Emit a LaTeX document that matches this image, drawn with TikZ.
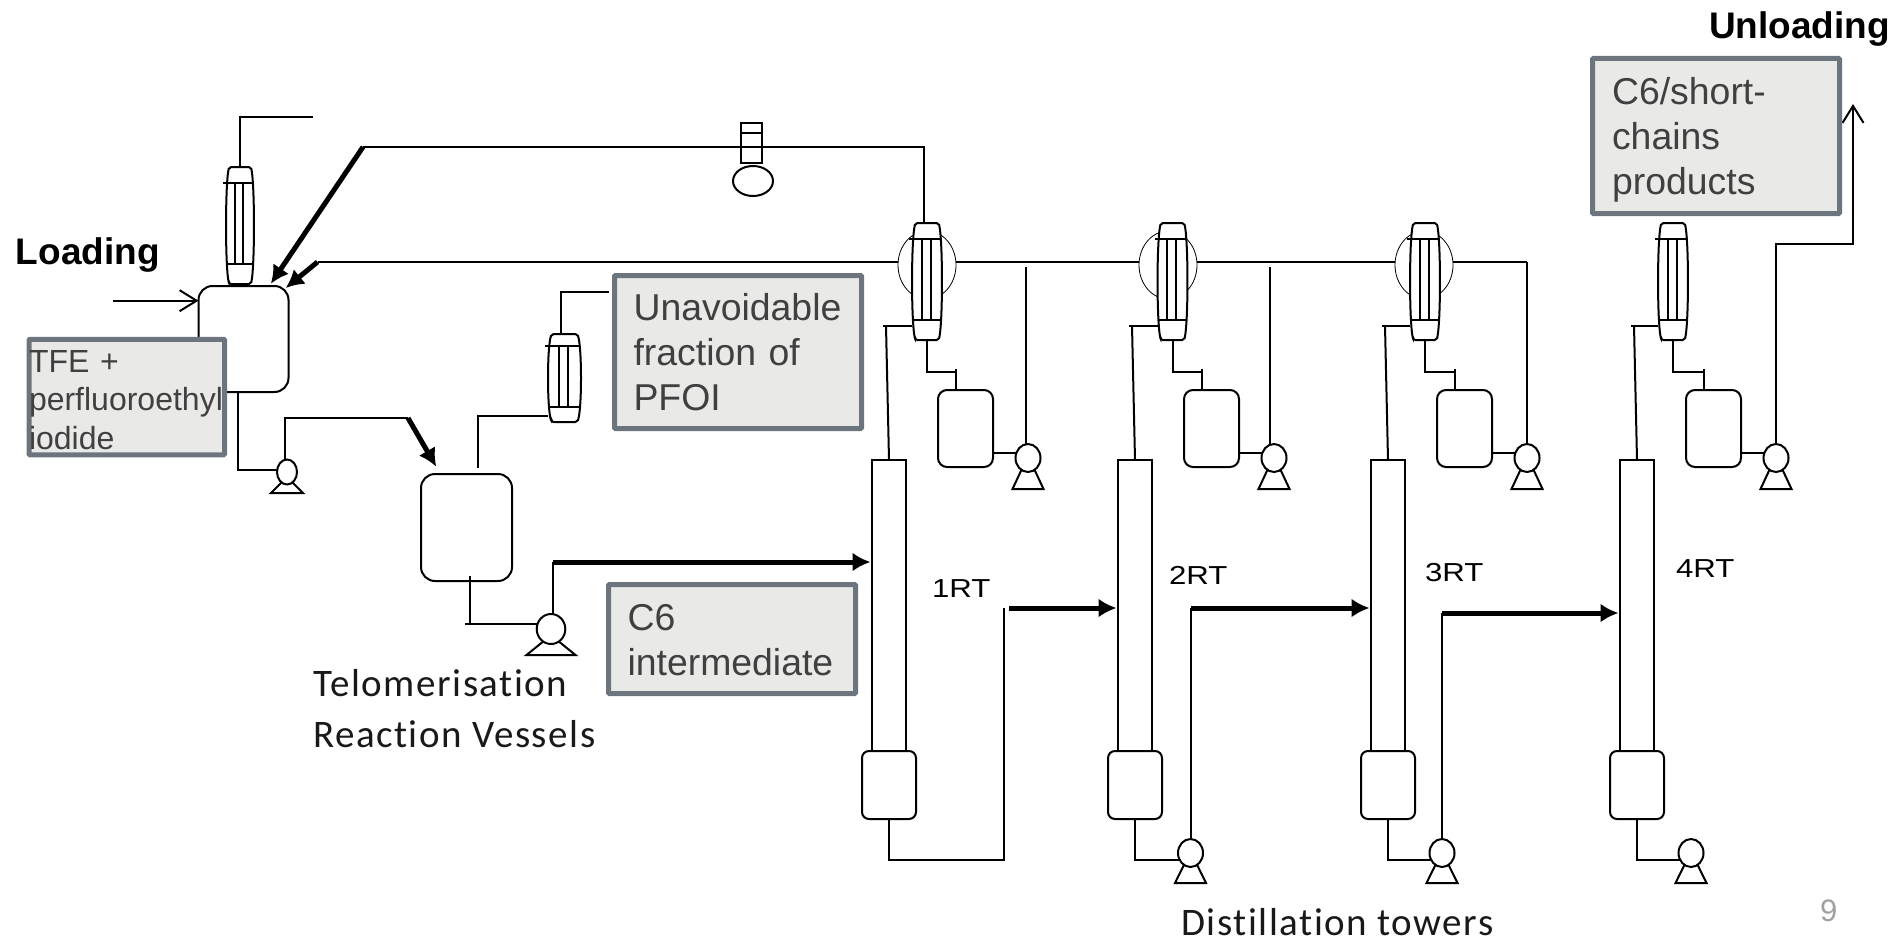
\documentclass[tikz,border=0pt]{standalone}
\usepackage{fontspec}
\setmainfont{Liberation Sans}
\newfontfamily\carlitofont[LetterSpace=4,Ligatures=CommonOff]{Carlito}
\usetikzlibrary{arrows.meta,shapes.geometric}
\definecolor{boxedge}{HTML}{6C757D}
\definecolor{boxfill}{HTML}{E9E9E7}
\definecolor{boxtext}{HTML}{404040}
\definecolor{pagegray}{HTML}{A0A0A0}
\newcommand{\condenser}[5]{%
  \node[condbox, minimum width=#4pt, minimum height=#5pt] (#1) at (#2,#3) {};
  \begin{scope}[shift={(#2,#3)}, x=#4pt, y=#5pt]
    \draw[pipe, fill=white, rounded corners=2pt] (-.39,-.5) -- (.39,-.5) .. controls (.53,-.35) and (.53,.35) .. (.39,.5) -- (-.39,.5) .. controls (-.53,.35) and (-.53,-.35) .. cycle;
    \draw[pipe] (-.46,-.33) -- (.46,-.33);
    \draw[pipe] (-.6,.36) -- (.46,.36);
    \draw[pipe] (-.17,-.33) -- (-.17,.36);
    \draw[pipe] (.12,-.33) -- (.12,.36);
  \end{scope}
}
\newcommand{\pump}[7]{%
  \draw[pipe, fill=white] (#2-#6,#3+#7) -- (#2+#6,#3+#7) -- (#2+.5*#4,#3+.8*#5) -- (#2-.5*#4,#3+.8*#5) -- cycle;
  \node[pumpbody, minimum width=2*#4pt, minimum height=2*#5pt] (#1) at (#2,#3) {};
}
\begin{document}
\begin{tikzpicture}[x=1pt, y=-1pt,
  every node/.style={inner sep=0pt, outer sep=0pt},
  pipe/.style={line width=2pt, black},
  heavy/.style={line width=5pt, black, shorten >=1.5pt, -{Latex[length=18pt,width=19pt]}},
  barb/.style={-{Straight Barb[length=17pt,width=21pt]}},
  vessel/.style={draw, line width=2pt, rounded corners=#1},
  condbox/.style={},
  pumpbody/.style={draw, line width=2pt, ellipse, fill=white},
  shell/.style={draw, line width=.8pt, ellipse, fill=white, minimum width=58pt, minimum height=68pt},
  txtbox/.style={draw=boxedge, line width=5pt, fill=boxfill, text=boxtext, align=left, rounded corners=1pt, font=\fontsize{37.4}{45}\selectfont},
  headline/.style={font=\bfseries\fontsize{37}{44}\selectfont},
  rtlabel/.style={font=\fontsize{26}{30}\selectfont, xscale=1.2, transform shape},
  caption/.style={font=\carlitofont\fontsize{39}{51}\selectfont, text=black!90, align=left}]
\useasboundingbox (0,0) rectangle (1897,942);

\coordinate (hdrA) at (363,147);
\coordinate (hdrB) at (317.5,262);
\coordinate (hdrEnd) at (1527,262);
\coordinate (feedA) at (270,285);
\coordinate (feedB) at (284.5,289);
\draw[pipe] (hdrB) -- (hdrEnd);
\foreach \n/\ex in {1/927, 2/1168, 3/1424}
  \node[shell] (shell\n) at (\ex,265) {};

\foreach \n/\dx/\cx in {1/0/927, 2/246/1172.5, 3/499/1425, 4/748/1673} {
  \node[draw, line width=2pt, minimum width=34pt, minimum height=291pt] (col\n) at (889+\dx,605.5) {};
  \node[vessel=7pt, fill=white, minimum width=54pt, minimum height=68pt] (reb\n) at (889+\dx,785) {};
  \node[vessel=9pt, minimum width=55pt, minimum height=77pt] (drum\n) at (965.5+\dx,428.5) {};
  \condenser{cond\n}{\cx}{281.5}{30}{117}
  \pump{pump\n}{1028+\dx}{458}{12.5}{14}{15.5}{31}
  \coordinate (fdA\n) at (883+\dx,326);
  \coordinate (fdB\n) at (886+\dx,326);
  \coordinate (out\n) at (956+\dx,372);
  \coordinate (stub\n) at (956+\dx,369);
  \draw[pipe] (fdA\n) -- (fdA\n -| cond\n.west);
  \draw[pipe] (fdB\n) -- (col\n.north);
  \draw[pipe] (cond\n.south) |- (out\n);
  \draw[pipe] (stub\n) -- (drum\n.north -| stub\n);
  \draw[pipe] (drum\n.east |- pump\n.155) -- (pump\n.155);
}
\foreach \n/\dx in {2/1190.5, 3/1442, 4/1691} {
  \pump{bpump\n}{\dx}{853}{12.5}{14}{15.5}{30}
  \draw[pipe] (reb\n.south) |- (bpump\n.212);
}

% reaction section
\node[vessel=14pt, minimum width=90pt, minimum height=106pt] (reactA) at (243.5,339) {};
\node[vessel=14pt, minimum width=91pt, minimum height=107pt] (reactB) at (466.5,527.5) {};
\condenser{condA}{240}{225.5}{28}{117}
\condenser{condB}{564.5}{378}{33}{88}
\pump{pumpA}{287}{472}{10}{12.5}{16}{21}
\pump{pumpB}{551}{629}{14.3}{15}{24.5}{26}

\coordinate (ventA) at (313,117);
\coordinate (ventB) at (609,292);
\coordinate (ventC) at (478,416);
\coordinate (ventD) at (478,468);
\coordinate (loadA) at (113,300.7);
\coordinate (dropA) at (238,392);
\coordinate (dropB) at (238,470);
\coordinate (riseS) at (284.5,418);
\coordinate (riseA) at (408,418);
\coordinate (riseB) at (437,468);
\coordinate (dropC) at (470,576);
\coordinate (dropD) at (470,624);
\coordinate (dropE) at (465,624);
\coordinate (teeA) at (553,562);
\draw[pipe] (condA.north) |- (ventA);
\draw[pipe] ([xshift=-3.5pt]condB.north) |- (ventB);
\draw[pipe] (condB.west |- ventC) -- (ventC) -- (ventD);
\draw[pipe, barb] (loadA) -- (loadA -| reactA.west);
\draw[pipe] (dropA) -- (dropB) -- (dropB -| pumpA.west);
\draw[pipe] (riseS |- pumpA.north) -- (riseS) -- (riseA);
\draw[heavy] (riseA) -- (riseB);
\draw[pipe] (dropC) -- (dropD);
\draw[pipe] (dropE) -- (pumpB.west |- dropE);
\draw[pipe] (teeA |- pumpB.north) -- (teeA);
\draw[heavy] (teeA) -- (teeA -| col1.west);

% overhead lines
\node[draw, line width=2pt, minimum width=21pt, minimum height=40pt] (valve) at (751.5,143) {};
\node[pumpbody, minimum width=40pt, minimum height=30pt] (drip) at (753,181) {};
\coordinate (valveT) at (751.5,133);
\draw[pipe] (valve.west |- valveT) -- (valve.east |- valveT);
\draw[pipe] (hdrA) -| ([xshift=-3pt]cond1.north);
\draw[heavy] (hdrA) -- (feedA);
\draw[heavy] (hdrB) -- (feedB);
\coordinate (retA) at (1026,267);
\coordinate (retB) at (1270,267);
\draw[pipe] (retA |- pump1.north) -- (retA);
\draw[pipe] (retB |- pump2.north) -- (retB);
\draw[pipe] (pump3.north) -- (hdrEnd);

% column bottoms
\coordinate (backA) at (1004,860);
\coordinate (backB) at (1004,608);
\coordinate (hvyA) at (1009,608);
\coordinate (hvyB) at (1190.5,608);
\coordinate (hvyC) at (1442,613);
\draw[pipe] (reb1.south) |- (backA) -- (backB);
\draw[heavy] (hvyA) -- (hvyA -| col2.west);
\draw[pipe] (bpump2.north) -- (hvyB);
\draw[heavy] (hvyB) -- (hvyB -| col3.west);
\draw[pipe] (bpump3.north) -- (hvyC);
\draw[heavy] (hvyC) -- (hvyC -| col4.west);

\coordinate (unA) at (1776,244);
\coordinate (unTip) at (1853,104);
\draw[pipe, barb] (pump4.north) -- (unA) -| (unTip);

\node[txtbox, font=\fontsize{32}{38.6}\selectfont, minimum height=115.5pt, text width=195.5pt] (tfe) at (126.75,397) {\rule{0pt}{28pt}TFE +\\perfluoroethyl\\iodide};
\node[txtbox, minimum height=153pt, text width=209pt, inner xsep=19pt] (pfoi) at (738,352) {Unavoidable\\fraction of\\PFOI};
\node[txtbox, minimum height=109pt, text width=209pt, inner xsep=19pt] (inter) at (732,639) {\rule{0pt}{29pt}C6\\intermediate};
\node[txtbox, minimum height=155pt, text width=208pt, inner xsep=19.5pt] (short) at (1716,136) {\rule{0pt}{34pt}C6/short-\\chains\\products};

\node[headline, anchor=base west] (loading) at (16,264) {Loading};
\node[headline, anchor=base west] (unloading) at (1709,39) {Unloading};
\node[rtlabel, anchor=base west] (rtA) at (932,597) {1RT};
\node[rtlabel, anchor=base west] (rtB) at (1169,584) {2RT};
\node[rtlabel, anchor=base west] (rtC) at (1425,581) {3RT};
\node[rtlabel, anchor=base west] (rtD) at (1676,577) {4RT};
\node[caption, anchor=west] (telo) at (313,709) {Telomerisation\\Reaction Vessels};
\node[caption, anchor=base west] (dist) at (1181,935) {Distillation towers};
\node[anchor=base west, text=pagegray, font=\fontsize{31}{36}\selectfont] (pageno) at (1820,921) {9};
\end{tikzpicture}
\end{document}
